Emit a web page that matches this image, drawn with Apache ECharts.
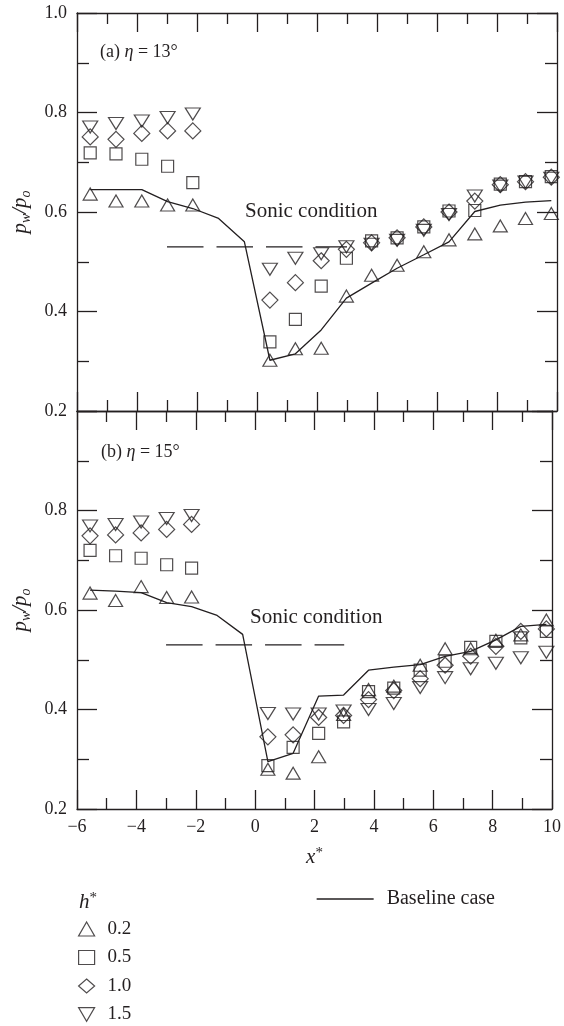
<!DOCTYPE html>
<html>
<head>
<meta charset="utf-8">
<script src="https://cdn.jsdelivr.net/npm/echarts@6/dist/echarts.min.js"></script>
<style>
  html, body { margin: 0; padding: 0; background: #fff; }
  #chart { width: 564px; height: 1026px; }
</style>
</head>
<body>
<div id="chart"></div>
<script>
// Wall pressure ratio p_w/p_o along x* for two ramp angles (eta = 13 deg, 15 deg)

// pressure tap stations x*
const xUpstream = [-5.56, -4.70, -3.84, -2.98, -2.14];
const xDownstream = [0.43, 1.28, 2.14, 2.98, 3.82, 4.67, 5.56, 6.40, 7.26, 8.11, 8.95, 9.81];
const xTaps = xUpstream.concat(xDownstream);
// stations of the baseline (no injection) curve
const xBaseline = [-5.56, -4.70, -3.84, -2.98, -2.14, -1.28, -0.42, 0.43, 1.28, 2.14, 2.98, 3.82, 4.67, 5.56, 6.40, 7.26, 8.11, 8.95, 9.81];

// injector heights h*
const hLabels = ['0.2', '0.5', '1.0', '1.5'];

// (a) eta = 13 deg
const eta13_h02 = [0.636, 0.622, 0.622, 0.614, 0.614, 0.302, 0.325, 0.326, 0.431, 0.473, 0.493, 0.520, 0.544, 0.556, 0.572, 0.587, 0.597];
const eta13_h05 = [0.719, 0.717, 0.706, 0.692, 0.659, 0.339, 0.384, 0.451, 0.507, 0.542, 0.548, 0.570, 0.602, 0.603, 0.656, 0.661, 0.671];
const eta13_h10 = [0.751, 0.746, 0.758, 0.763, 0.763, 0.423, 0.458, 0.502, 0.525, 0.538, 0.548, 0.570, 0.600, 0.622, 0.655, 0.661, 0.670];
const eta13_h15 = [0.771, 0.778, 0.783, 0.790, 0.797, 0.485, 0.507, 0.516, 0.530, 0.535, 0.543, 0.563, 0.595, 0.632, 0.652, 0.660, 0.668];
const eta13_base = [0.645, 0.645, 0.645, 0.621, 0.607, 0.587, 0.540, 0.302, 0.315, 0.363, 0.427, 0.457, 0.487, 0.514, 0.540, 0.601, 0.614, 0.620, 0.623];

// (b) eta = 15 deg
const eta15_h02 = [0.634, 0.619, 0.647, 0.625, 0.626, 0.280, 0.272, 0.305, 0.390, 0.440, 0.447, 0.489, 0.522, 0.522, 0.539, 0.550, 0.580];
const eta15_h05 = [0.720, 0.709, 0.704, 0.691, 0.684, 0.287, 0.324, 0.352, 0.375, 0.436, 0.443, 0.479, 0.497, 0.525, 0.537, 0.544, 0.557];
const eta15_h10 = [0.749, 0.751, 0.755, 0.762, 0.772, 0.345, 0.349, 0.384, 0.388, 0.420, 0.438, 0.462, 0.489, 0.507, 0.527, 0.557, 0.562];
const eta15_h15 = [0.769, 0.772, 0.777, 0.784, 0.790, 0.392, 0.391, 0.391, 0.397, 0.400, 0.412, 0.444, 0.464, 0.482, 0.493, 0.504, 0.515];
const eta15_base = [0.640, 0.638, 0.635, 0.615, 0.607, 0.589, 0.551, 0.295, 0.312, 0.427, 0.429, 0.479, 0.485, 0.490, 0.507, 0.517, 0.540, 0.567, 0.571];

// sonic pressure ratio, drawn over a limited x* span
const sonicX = [-3, 3];
const sonicRatio = 0.53;

const INK = '#231f20';
const FONT = '"Liberation Serif", "DejaVu Serif", serif';

const symbols = {
  '0.2': { symbol: 'triangle', size: [14, 12] },
  '0.5': { symbol: 'rect', size: [12, 12] },
  '1.0': { symbol: 'diamond', size: [16, 16] },
  '1.5': { symbol: 'path://M0,0L14,0L7,12Z', size: [15, 12] }
};

function pairs(xs, ys) { return xs.map((x, i) => [x, ys[i]]); }

function scatter(h, ys, axis) {
  return {
    type: 'scatter', name: h, xAxisIndex: axis, yAxisIndex: axis,
    data: pairs(xTaps, ys),
    symbol: symbols[h].symbol, symbolSize: symbols[h].size,
    itemStyle: { color: 'transparent', borderColor: INK, borderWidth: 1.2 },
    clip: false, z: 3
  };
}

function baseline(ys, axis) {
  return {
    type: 'line', name: 'Baseline case', xAxisIndex: axis, yAxisIndex: axis,
    data: pairs(xBaseline, ys), symbol: 'none',
    lineStyle: { color: INK, width: 1.3 }, z: 2
  };
}

function sonicLine(axis) {
  return {
    type: 'line', name: 'sonic', xAxisIndex: axis, yAxisIndex: axis,
    data: sonicX.map(x => [x, sonicRatio]), symbol: 'none',
    lineStyle: { color: INK, width: 1.2, type: [36.5, 13] }, z: 2
  };
}

const lineStyle = { color: INK, width: 1.3 };

function xAxis(grid, position, labels, extra) {
  return Object.assign({
    type: 'value', gridIndex: grid, position: position,
    min: -6, max: 10, interval: 2,
    axisLine: { show: true, onZero: false, lineStyle: lineStyle },
    axisTick: { show: true, inside: true, length: 19, lineStyle: lineStyle },
    minorTick: { show: true, splitNumber: 2, length: 11, lineStyle: lineStyle },
    splitLine: { show: false },
    axisLabel: {
      show: labels, margin: 9, color: INK, fontFamily: FONT, fontSize: 18,
      formatter: v => String(v).replace('-', '\u2212')
    }
  }, extra || {});
}

function yAxis(grid, position, labels, extra) {
  return Object.assign({
    type: 'value', gridIndex: grid, position: position,
    min: 0.2, max: 1.0, interval: 0.2,
    axisLine: { show: true, onZero: false, lineStyle: lineStyle },
    axisTick: { show: true, inside: true, length: 20, lineStyle: lineStyle },
    minorTick: { show: true, splitNumber: 2, length: 12, lineStyle: lineStyle },
    splitLine: { show: false },
    axisLabel: {
      show: labels, margin: 10, color: INK, fontFamily: FONT, fontSize: 18,
      formatter: v => v.toFixed(1)
    }
  }, extra || {});
}

const yName = {
  name: '{p|p}{s|w}{p|/}{p|p}{s|o}',
  nameLocation: 'middle',
  nameGap: 40,
  nameTextStyle: {
    rich: {
      p: { fontFamily: FONT, fontStyle: 'italic', fontSize: 21, lineHeight: 26, color: INK, verticalAlign: 'middle' },
      s: { fontFamily: FONT, fontStyle: 'italic', fontSize: 14, lineHeight: 15, color: INK, verticalAlign: 'bottom' }
    }
  }
};

const panelText = {
  n: { fontFamily: FONT, fontSize: 18, fill: INK },
  e: { fontFamily: FONT, fontStyle: 'italic', fontSize: 18, fill: INK }
};

const option = {
  animation: false,
  backgroundColor: '#fff',
  grid: [
    { left: 77, top: 13, width: 480, height: 398 },
    { left: 77, top: 411, width: 480, height: 398 }
  ],
  xAxis: [
    xAxis(0, 'bottom', false),
    xAxis(0, 'top', false),
    xAxis(1, 'bottom', true, {
      name: '{i|x}{s|*}', nameLocation: 'middle', nameGap: 37,
      nameTextStyle: {
        rich: {
          i: { fontFamily: FONT, fontStyle: 'italic', fontSize: 21, lineHeight: 22, color: INK, verticalAlign: 'bottom' },
          s: { fontFamily: FONT, fontSize: 15, lineHeight: 22, color: INK, verticalAlign: 'top' }
        }
      }
    }),
    xAxis(1, 'top', false)
  ],
  yAxis: [
    yAxis(0, 'left', true, yName),
    yAxis(0, 'right', false),
    yAxis(1, 'left', true, Object.assign({}, yName, {
      axisLabel: {
        show: true, margin: 10, color: INK, fontFamily: FONT, fontSize: 18,
        showMaxLabel: false, formatter: v => v.toFixed(1)
      }
    })),
    yAxis(1, 'right', false)
  ],
  legend: [
    {
      data: hLabels, orient: 'vertical', left: 78, top: 919, height: 140,
      padding: 0, itemWidth: 16, itemHeight: 14, itemGap: 8.5, selectedMode: false,
      itemStyle: { color: 'transparent', borderColor: INK, borderWidth: 1.2 },
      textStyle: { fontFamily: FONT, fontSize: 19, lineHeight: 20, color: INK, padding: [0, 0, 0, 8] }
    },
    {
      data: ['Baseline case'], left: 316, top: 889, padding: 0,
      itemWidth: 57, itemHeight: 14, selectedMode: false,
      lineStyle: { color: INK, width: 1.3 },
      itemStyle: { color: 'transparent', borderColor: 'transparent', borderWidth: 0, opacity: 0 },
      textStyle: { fontFamily: FONT, fontSize: 20, lineHeight: 20, color: INK, padding: [0, 0, 0, 8] }
    }
  ],
  graphic: [
    {
      type: 'text', x: 100, y: 52,
      style: { text: '{n|(a) }{e|\u03b7}{n| = 13\u00b0}', verticalAlign: 'middle', rich: panelText }
    },
    {
      type: 'text', x: 101, y: 452,
      style: { text: '{n|(b) }{e|\u03b7}{n| = 15\u00b0}', verticalAlign: 'middle', rich: panelText }
    },
    {
      type: 'text', x: 245, y: 211,
      style: { text: 'Sonic condition', fontFamily: FONT, fontSize: 21, fill: INK, verticalAlign: 'middle' }
    },
    {
      type: 'text', x: 250, y: 617,
      style: { text: 'Sonic condition', fontFamily: FONT, fontSize: 21, fill: INK, verticalAlign: 'middle' }
    },
    {
      type: 'text', x: 79, y: 902,
      style: {
        text: '{i|h}{s|*}', verticalAlign: 'middle',
        rich: {
          i: { fontFamily: FONT, fontStyle: 'italic', fontSize: 21, lineHeight: 22, fill: INK, verticalAlign: 'bottom' },
          s: { fontFamily: FONT, fontSize: 15, lineHeight: 22, fill: INK, verticalAlign: 'top' }
        }
      }
    }
  ],
  series: [
    baseline(eta13_base, 0),
    sonicLine(0),
    scatter('0.2', eta13_h02, 0),
    scatter('0.5', eta13_h05, 0),
    scatter('1.0', eta13_h10, 0),
    scatter('1.5', eta13_h15, 0),
    baseline(eta15_base, 2),
    sonicLine(2),
    scatter('0.2', eta15_h02, 2),
    scatter('0.5', eta15_h05, 2),
    scatter('1.0', eta15_h10, 2),
    scatter('1.5', eta15_h15, 2)
  ]
};

const chart = echarts.init(document.getElementById('chart'), null, { renderer: 'canvas' });
chart.setOption(option);
</script>
</body>
</html>
